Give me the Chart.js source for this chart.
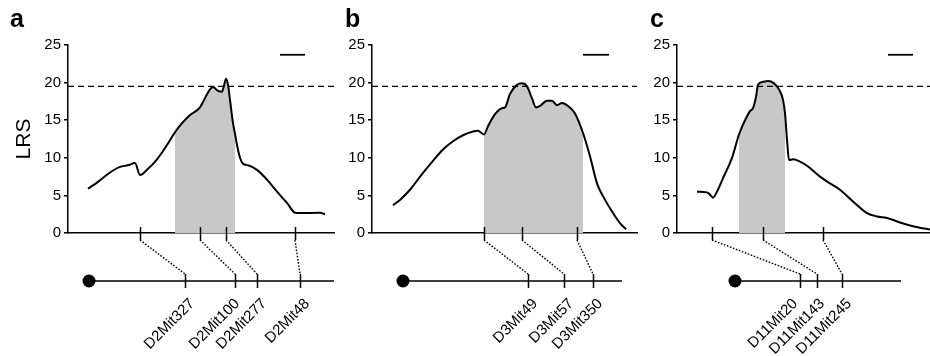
<!DOCTYPE html>
<html>
<head>
<meta charset="utf-8">
<script src="https://cdn.jsdelivr.net/npm/chart.js@4.4.1/dist/chart.umd.min.js"></script>
<style>
  html, body { margin: 0; padding: 0; background: #fff; }
  #wrap { position: relative; width: 930px; height: 356px; overflow: hidden; }
  canvas { position: absolute; top: 0; }
</style>
</head>
<body>
<div id="wrap">
  <canvas id="chartA" width="340" height="356" style="left:0px"></canvas>
  <canvas id="chartB" width="305" height="356" style="left:340px"></canvas>
  <canvas id="chartC" width="285" height="356" style="left:645px"></canvas>
</div>
<script>
// LRS threshold, y ticks and scale bar (position in map units)
const threshold = 19.5;
const yTicks = [0, 5, 10, 15, 20, 25];
const scaleBarLRS = 23.7;

// panel a - chromosome 2
const curveA = [[20,5.9],[29,6.7],[42,8.05],[52,8.8],[60,9.0],[67,9.3],[72,7.7],[79,8.4],[89,9.8],[99,11.7],
  [107,13.4],[114,14.6],[122,15.7],[132,16.7],[136,17.7],[142,19.1],[145,19.4],[150,18.9],[154,18.8],[156,19.6],
  [158,20.5],[160,19.7],[162,17.7],[165,14.6],[167,13.2],[169,11.7],[172,10.0],[175,9.2],[180,9.0],[189,8.4],
  [199,7.1],[209,5.5],[219,4.0],[227,2.7],[232,2.65],[252,2.7],[257,2.5]];
const shadeA = [107, 167];
const axisMarkersA = [72, 132, 158, 227];
const mapMarkersA = [117, 167, 189, 232];
const markerNamesA = ['D2Mit327', 'D2Mit100', 'D2Mit277', 'D2Mit48'];
const centromereA = 21;
const chromEndA = 266;
const scaleBarA = [212, 237];

// panel b - chromosome 3
const curveB = [[21,3.7],[28,4.4],[38,5.75],[51,8.0],[61,9.6],[71,11.1],[81,12.2],[91,13.0],[101,13.5],[106,13.6],
  [112,13.1],[116,14.2],[123,15.8],[130,16.6],[133,16.7],[138,18.5],[145,19.7],[150,19.9],[155,19.5],[160,17.9],
  [164,16.7],[168,16.9],[175,17.6],[180,17.6],[185,17.0],[190,17.3],[196,16.9],[203,15.9],[211,13.3],[218,10.2],
  [225,6.6],[231,4.9],[241,2.65],[248,1.3],[254,0.5]];
const shadeB = [112, 211];
const axisMarkersB = [112, 150, 205];
const mapMarkersB = [156, 192, 221];
const markerNamesB = ['D3Mit49', 'D3Mit57', 'D3Mit350'];
const centromereB = 31;
const chromEndB = 250;
const scaleBarB = [211, 237];

// panel c - chromosome 11
const curveC = [[20,5.5],[30,5.4],[33,5.1],[36,4.7],[40,5.5],[46,7.3],[55,10.0],[62,13.1],[68,15.0],[73,16.2],
  [76,16.6],[79,18.1],[81,19.7],[86,20.1],[91,20.2],[97,19.9],[102,19.1],[106,17.7],[108,15.9],[110,12.4],
  [112,9.7],[116,9.8],[123,9.5],[131,8.85],[143,7.5],[153,6.6],[163,5.75],[176,4.2],[190,2.65],[200,2.2],
  [210,2.0],[223,1.4],[236,0.9],[253,0.45]];
const shadeC = [62, 108];
const axisMarkersC = [35, 86, 146];
const mapMarkersC = [123, 140, 165];
const markerNamesC = ['D11Mit20', 'D11Mit143', 'D11Mit245'];
const centromereC = 58;
const chromEndC = 224;
const scaleBarC = [211, 236];

const fontFamily = '"Liberation Sans", Arial, sans-serif';

// dibuja marcadores, cromosoma y etiquetas bajo el eje
const mapPlugin = (panel) => ({
  id: 'geneMap',
  afterDraw(chart) {
    const { ctx, chartArea, scales: { x } } = chart;
    const axisY = chartArea.bottom;
    const chromY = axisY + 48;
    ctx.save();
    ctx.strokeStyle = '#000';
    ctx.fillStyle = '#000';

    // marcas en el eje LRS
    ctx.lineWidth = 1.5;
    ctx.beginPath();
    panel.axisMarkers.forEach(v => {
      const px = Math.round(x.getPixelForValue(v)) + 0.5;
      ctx.moveTo(px, axisY - 6);
      ctx.lineTo(px, axisY + 7);
    });
    ctx.stroke();

    // lineas punteadas
    ctx.lineWidth = 1.4;
    ctx.setLineDash([1.6, 1.6]);
    ctx.beginPath();
    panel.axisMarkers.forEach((v, i) => {
      ctx.moveTo(x.getPixelForValue(v), axisY + 7);
      ctx.lineTo(x.getPixelForValue(panel.mapMarkers[i]), chromY - 7);
    });
    ctx.stroke();
    ctx.setLineDash([]);

    // cromosoma
    const c0 = x.getPixelForValue(panel.centromere);
    const c1 = x.getPixelForValue(panel.chromEnd);
    ctx.lineWidth = 1.5;
    ctx.beginPath();
    ctx.moveTo(c0, chromY);
    ctx.lineTo(c1, chromY);
    panel.mapMarkers.forEach(v => {
      const px = Math.round(x.getPixelForValue(v)) + 0.5;
      ctx.moveTo(px, chromY - 7);
      ctx.lineTo(px, chromY + 7);
    });
    ctx.stroke();
    ctx.beginPath();
    ctx.arc(c0, chromY, 6.5, 0, Math.PI * 2);
    ctx.fill();

    // etiquetas giradas, evitando que se encimen
    ctx.font = '15px ' + fontFamily;
    ctx.textAlign = 'right';
    ctx.textBaseline = 'top';
    const anchors = [];
    for (let i = panel.mapMarkers.length - 1; i >= 0; i--) {
      let ax = x.getPixelForValue(panel.mapMarkers[i]) + 2;
      if (i < panel.mapMarkers.length - 1) ax = Math.min(ax, anchors[i + 1] - 27);
      anchors[i] = ax;
    }
    panel.names.forEach((name, i) => {
      ctx.save();
      ctx.translate(anchors[i], chromY + 15);
      ctx.rotate(-Math.PI / 4);
      ctx.fillText(name, 0, 0);
      ctx.restore();
    });

    // letra del panel
    ctx.font = 'bold 25px ' + fontFamily;
    ctx.textAlign = 'left';
    ctx.textBaseline = 'alphabetic';
    ctx.fillText(panel.letter, panel.letterX, 27);
    ctx.restore();
  }
});

const createPanel = (canvasId, panel) => {
  const ctx = document.getElementById(canvasId).getContext('2d');
  const toPoints = arr => arr.map(([x, y]) => ({ x, y }));
  const shaded = panel.curve.filter(([x]) => x >= panel.shade[0] && x <= panel.shade[1]);
  return new Chart(ctx, {
    type: 'line',
    data: {
      datasets: [
        {
          label: 'LRS',
          data: toPoints(panel.curve),
          borderColor: '#000',
          borderWidth: 2,
          pointRadius: 0,
          cubicInterpolationMode: 'monotone',
          fill: false,
          order: 1
        },
        {
          label: 'support interval',
          data: toPoints(shaded),
          borderWidth: 0,
          borderColor: 'rgba(0,0,0,0)',
          backgroundColor: 'rgb(200, 200, 200)',
          pointRadius: 0,
          cubicInterpolationMode: 'monotone',
          fill: 'origin',
          order: 3
        },
        {
          label: 'threshold',
          data: [{ x: 0, y: threshold }, { x: panel.xMax, y: threshold }],
          borderColor: '#000',
          borderWidth: 1.2,
          borderDash: [6, 4],
          pointRadius: 0,
          order: 2
        },
        {
          label: 'scale',
          data: panel.scaleBar.map(v => ({ x: v, y: scaleBarLRS })),
          borderColor: '#000',
          borderWidth: 1.8,
          pointRadius: 0,
          order: 2
        }
      ]
    },
    options: {
      responsive: false,
      animation: false,
      devicePixelRatio: 1,
      layout: { padding: { left: 0, right: panel.padRight, top: 45, bottom: 123 } },
      plugins: { legend: { display: false }, tooltip: { enabled: false } },
      scales: {
        x: {
          type: 'linear',
          min: 0,
          max: panel.xMax,
          grid: { display: false },
          ticks: { display: false },
          border: { display: true, color: '#000', width: 1.5 },
          afterFit: s => { s.height = 0; }
        },
        y: {
          min: 0,
          max: 25,
          afterBuildTicks: s => { s.ticks = yTicks.map(v => ({ value: v })); },
          grid: { display: true, drawOnChartArea: false, drawTicks: true, tickLength: 4, color: '#000', lineWidth: 1.5 },
          border: { display: true, color: '#000', width: 1.5 },
          ticks: { color: '#000', padding: 3, font: { size: 15, family: fontFamily } },
          title: {
            display: panel.showTitle,
            text: 'LRS',
            color: '#000',
            font: { size: 21, family: fontFamily },
            padding: { top: 12, bottom: 0 }
          },
          afterFit: s => { s.width = panel.yWidth; }
        }
      }
    },
    plugins: [mapPlugin(panel)]
  });
};

createPanel('chartA', {
  curve: curveA, shade: shadeA, axisMarkers: axisMarkersA, mapMarkers: mapMarkersA, names: markerNamesA,
  centromere: centromereA, chromEnd: chromEndA, scaleBar: scaleBarA,
  letter: 'a', letterX: 10, xMax: 266, yWidth: 68, padRight: 6, showTitle: true
});
createPanel('chartB', {
  curve: curveB, shade: shadeB, axisMarkers: axisMarkersB, mapMarkers: mapMarkersB, names: markerNamesB,
  centromere: centromereB, chromEnd: chromEndB, scaleBar: scaleBarB,
  letter: 'b', letterX: 5, xMax: 265, yWidth: 32, padRight: 8, showTitle: false
});
createPanel('chartC', {
  curve: curveC, shade: shadeC, axisMarkers: axisMarkersC, mapMarkers: mapMarkersC, names: markerNamesC,
  centromere: centromereC, chromEnd: chromEndC, scaleBar: scaleBarC,
  letter: 'c', letterX: 5, xMax: 253, yWidth: 32, padRight: 0, showTitle: false
});
</script>
</body>
</html>
